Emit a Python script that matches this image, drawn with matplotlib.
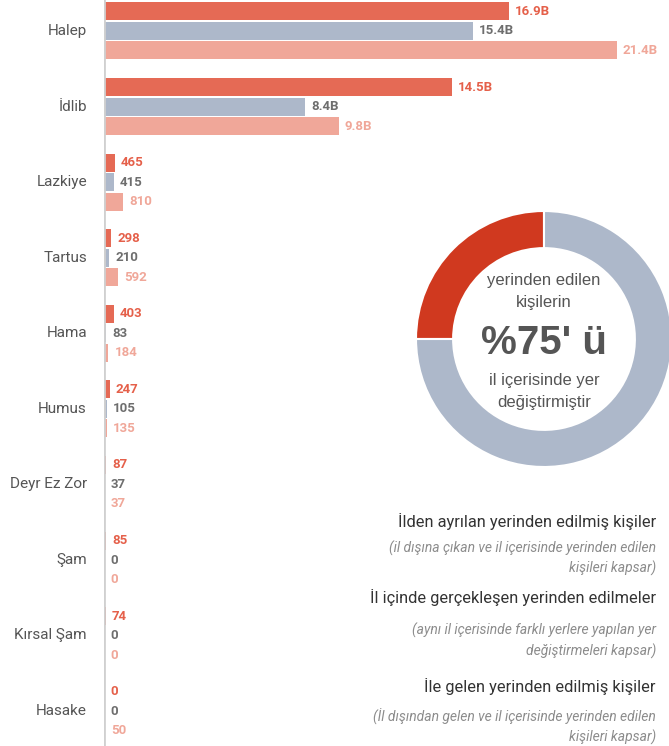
import matplotlib
matplotlib.use("Agg")
import matplotlib.pyplot as plt
from matplotlib.patches import Wedge
import numpy as np

categories = ["Halep", "İdlib", "Lazkiye", "Tartus", "Hama", "Humus",
              "Deyr Ez Zor", "Şam", "Kırsal Şam", "Hasake"]
departed = [16900, 14500, 465, 298, 403, 247, 87, 85, 74, 0]
within = [15400, 8400, 415, 210, 83, 105, 37, 0, 0, 0]
arrived = [21400, 9800, 810, 592, 184, 135, 37, 0, 0, 50]

donut_share = [25, 75]  # red, grey
donut_lines = ["yerinden edilen", "kişilerin", "%75' ü", "il içerisinde yer", "değiştirmiştir"]

legend_titles = ["İlden ayrılan yerinden edilmiş kişiler",
                 "İl içinde gerçekleşen yerinden edilmeler",
                 "İle gelen yerinden edilmiş kişiler"]
legend_notes = [["(il dışına çıkan ve il içerisinde yerinden edilen", "kişileri kapsar)"],
                ["(aynı il içerisinde farklı yerlere yapılan yer", "değiştirmeleri kapsar)"],
                ["(İl dışından gelen ve il içerisinde yerinden edilen", "kişileri kapsar)"]]

c_red = "#E56A55"
c_grey = "#ADB8CA"
c_salmon = "#F0A799"
lab_cols = ["#E5604A", "#6E6E6E", "#F0A799"]

W, H = 669, 746
fig = plt.figure(figsize=(W / 100, H / 100), dpi=100)

ax = fig.add_axes([104 / W, 0, 1 - 104 / W, 1])
ax.set_xlim(0, 565 * 21400 / 513)
ax.set_ylim(9.46, -0.41)
for s in ax.spines.values():
    s.set_visible(False)
ax.set_xticks([])
ax.set_yticks([])
ax.axvline(0, color="#D0D0D0", lw=2, zorder=5)

y = np.arange(len(categories))
off = 0.258
bh = 0.238
cond = ["Roboto", "DejaVu Sans"]
for k, (vals, col) in enumerate([(departed, c_red), (within, c_grey), (arrived, c_salmon)]):
    yy = y + (k - 1) * off
    ax.barh(yy, vals, height=bh, color=col, edgecolor="none", zorder=3)
    for yi, v in zip(yy, vals):
        lab = f"{v/1000:.1f}B" if v >= 1000 else f"{v}"
        ax.text(v + 250, yi, lab, va="center", ha="left", fontsize=9.5,
                fontweight="bold", color=lab_cols[k], family=cond)

for yi, c in zip(y, categories):
    fig.text(87 / W, 1 - (31 + yi * 75.56) / H, c, ha="right", va="center",
             fontsize=11, color="#555555", family=["Roboto", "DejaVu Sans"])

# donut
cx, cy, R = 544, 339, 128
dax = fig.add_axes([(cx - R) / W, (H - cy - R) / H, 2 * R / W, 2 * R / H])
dax.set_xlim(-1, 1)
dax.set_ylim(-1, 1)
dax.axis("off")
red_ang = 360 * donut_share[0] / 100
dax.add_patch(Wedge((0, 0), 1, 90, 90 + red_ang, width=0.29, facecolor="#D0391F",
                    edgecolor="white", lw=1.5))
dax.add_patch(Wedge((0, 0), 1, 90 + red_ang, 450, width=0.29, facecolor=c_grey,
                    edgecolor="white", lw=1.5))
ty = [281, 303, 343, 380, 403]
sizes = [12, 12, 29, 12, 12]
for t, yy_, sz in zip(donut_lines, ty, sizes):
    fig.text(cx / W, 1 - yy_ / H, t, ha="center", va="center", fontsize=sz,
             color="#555555", fontweight="bold" if sz > 20 else "normal",
             family=["Liberation Sans", "DejaVu Sans"])

# legend texts
title_y = [521, 597, 686]
note_y = [[548, 568], [630, 651], [717, 737]]
for t, ny, notes, tyy in zip(legend_titles, note_y, legend_notes, title_y):
    fig.text(656 / W, 1 - tyy / H, t, ha="right", va="center", fontsize=11.8,
             color="#333333", family=["Roboto", "DejaVu Sans"])
    for n, nyy in zip(notes, ny):
        fig.text(656 / W, 1 - nyy / H, n, ha="right", va="center", fontsize=10,
                 color="#8C8C8C", style="italic",
                 family=["Roboto", "DejaVu Sans"])

fig.savefig("out.png", dpi=100)
